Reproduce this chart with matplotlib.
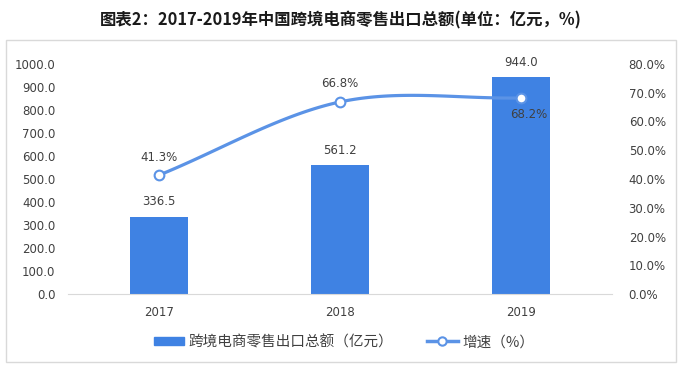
import numpy as np
import matplotlib
matplotlib.use("Agg")
import matplotlib.pyplot as plt
from matplotlib.patches import Rectangle
from matplotlib.lines import Line2D

plt.rcParams['font.family'] = ['Noto Sans CJK SC', 'DejaVu Sans']
NUM_FONT = ['DejaVu Sans']

years = ["2017", "2018", "2019"]
amount = [336.5, 561.2, 944.0]
growth = [41.3, 66.8, 68.2]
amount_labels = ["336.5", "561.2", "944.0"]
growth_labels = ["41.3%", "66.8%", "68.2%"]
title = "图表2：2017-2019年中国跨境电商零售出口总额(单位：亿元，%)"
bar_name = "跨境电商零售出口总额（亿元）"
line_name = "增速（%）"

bar_color = "#3F82E3"
line_color = "#5B93E6"
text_color = "#404040"

fig = plt.figure(figsize=(6.81, 3.68), dpi=100)
fig.patches.append(Rectangle((6/681, 1 - 362/368), 670/681, 322/368, transform=fig.transFigure,
                             fill=False, edgecolor="#D9D9D9", linewidth=1.0))

ax = fig.add_axes([68/681, 1 - 294/368, 544/681, 230/368])
x = np.arange(len(years))
ax.bar(x, amount, width=0.32, color=bar_color, zorder=2)
ax.set_xlim(-0.5, 2.5)
ax.set_ylim(0, 1000)
ax.set_yticks(np.arange(0, 1001, 100))
ax.set_yticklabels([f"{v:.1f}" for v in np.arange(0, 1001, 100)], family=NUM_FONT)
ax.set_xticks(x)
ax.set_xticklabels(years, family=NUM_FONT)
for s in ["top", "right", "left"]:
    ax.spines[s].set_visible(False)
ax.spines["bottom"].set_color("#D9D9D9")
ax.tick_params(axis="both", length=0, labelsize=8.5, colors=text_color)
ax.tick_params(axis="y", pad=9)
ax.tick_params(axis="x", pad=9)
for xi, v, lab in zip(x, amount, amount_labels):
    ax.annotate(lab, (xi, v), xytext=(0, 8), textcoords="offset points",
                ha="center", va="baseline", fontsize=8.5, color=text_color, family=NUM_FONT)

ax2 = ax.twinx()
ax2.set_ylim(0, 80)
ax2.set_yticks(np.arange(0, 81, 10))
ax2.set_yticklabels([f"{v:.1f}%" for v in np.arange(0, 81, 10)], family=NUM_FONT)
for s in ["top", "right", "left", "bottom"]:
    ax2.spines[s].set_visible(False)
ax2.tick_params(axis="y", length=0, labelsize=8.5, colors=text_color, pad=12)

# smooth curve (Catmull-Rom through the data points)
px = np.array(x, dtype=float)
py = np.array(growth, dtype=float)
P = np.column_stack([px, py])
ext = np.vstack([2 * P[0] - P[1], P, 2 * P[-1] - P[-2]])
cx, cy = [], []
t = np.linspace(0, 1, 50)
for i in range(1, len(ext) - 2):
    p0, p1, p2, p3 = ext[i - 1], ext[i], ext[i + 1], ext[i + 2]
    m1 = (p2 - p0) / 2
    m2 = (p3 - p1) / 2
    h00 = 2 * t**3 - 3 * t**2 + 1
    h10 = t**3 - 2 * t**2 + t
    h01 = -2 * t**3 + 3 * t**2
    h11 = t**3 - t**2
    seg = np.outer(h00, p1) + np.outer(h10, m1) + np.outer(h01, p2) + np.outer(h11, m2)
    cx.extend(seg[:, 0]); cy.extend(seg[:, 1])
ax2.plot(cx, cy, color=line_color, linewidth=2.3, zorder=3, solid_capstyle="round")
ax2.plot(px, py, linestyle="none", marker="o", markersize=7, markerfacecolor="white",
         markeredgecolor=line_color, markeredgewidth=1.5, zorder=4)
offsets = [(0, 10), (0, 11), (5, -14.5)]
for xi, v, lab, off in zip(px, py, growth_labels, offsets):
    ax2.annotate(lab, (xi, v), xytext=off, textcoords="offset points",
                 ha="center", va="baseline", fontsize=8.5, color=text_color, family=NUM_FONT)

fig.text(0.5, 1 - 20/368, title, ha="center", va="center", fontsize=11.8, fontweight="bold",
         color="#1a1a1a")

h1 = Rectangle((0, 0), 1, 1, color=bar_color)
h2 = Line2D([0], [0], color=line_color, linewidth=2.5, marker="o", markersize=6,
            markerfacecolor="white", markeredgecolor=line_color, markeredgewidth=1.5)
fig.legend([h1, h2], [bar_name, line_name], loc="center", bbox_to_anchor=(344/681, 1 - 342/368),
           ncol=2, frameon=False, fontsize=10.5, handlelength=2.1, handleheight=0.55,
           columnspacing=2.3, handletextpad=0.3, labelcolor=text_color, borderpad=0)

fig.savefig("out.png", dpi=100)
